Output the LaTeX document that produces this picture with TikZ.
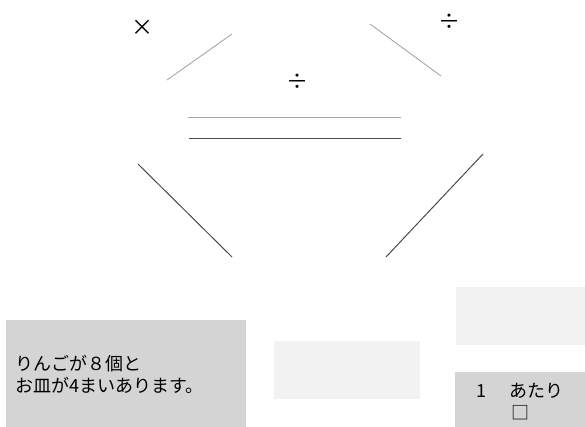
\documentclass[tikz,border=0pt]{standalone}
\usepackage{fontspec}
\setmainfont{Noto Sans CJK JP}
\usetikzlibrary{positioning}

\definecolor{boxgray}{HTML}{D4D4D4}
\definecolor{boxlight}{HTML}{F2F2F2}
\definecolor{linelight}{HTML}{A6A6A6}
\definecolor{linedark}{HTML}{4A4A4A}

\begin{document}
\begin{tikzpicture}[x=1pt, y=-1pt,
  sym/.style={font=\fontsize{22}{24}\selectfont, inner sep=0pt},
  word/.style={font=\fontsize{18}{22}\selectfont, inner sep=0pt, align=left},
  greybox/.style={fill=boxgray, anchor=north west, inner sep=0pt},
  lightbox/.style={fill=boxlight, anchor=north west, inner sep=0pt},
  thinline/.style={draw=linelight, line width=0.9pt},
  darkline/.style={draw=linedark, line width=1pt}]

  \useasboundingbox (0,0) rectangle (585,427);

  % Operators
  \node[sym] (times) at (142.5,28) {×};
  \node[sym] (divtop) at (449,22) {÷};
  \node[sym] (divmid) at (297,82) {÷};

  % Line ends
  \coordinate (L1a) at (167,80);
  \coordinate (L1b) at (232,34);
  \coordinate (R1a) at (370,24);
  \coordinate (R1b) at (441,76);
  \coordinate (H1a) at (188,117);
  \coordinate (H1b) at (401,117);
  \coordinate (H2a) at (189,139);
  \coordinate (H2b) at (401,139);
  \coordinate (L2a) at (138,164);
  \coordinate (L2b) at (232,257);
  \coordinate (R2a) at (386,257);
  \coordinate (R2b) at (483,154);

  % Lines
  \draw[thinline] (L1a) -- (L1b);
  \draw[thinline] (R1a) -- (R1b);
  \draw[thinline] (H1a) -- (H1b);
  \draw[darkline] (H2a) -- (H2b);
  \draw[darkline] (L2a) -- (L2b);
  \draw[darkline] (R2a) -- (R2b);

  % Boxes
  \node[greybox, minimum width=240pt, minimum height=107pt] (story) at (6,320) {};
  \node[lightbox, minimum width=146pt, minimum height=58pt] (middle) at (274,341) {};
  \node[lightbox, minimum width=129pt, minimum height=58pt] (answer) at (456,287) {};
  \node[greybox, minimum width=130pt, minimum height=55pt] (unit) at (455,372) {};

  % Texts
  \node[word, anchor=west] (storytext) at ([xshift=9pt, yshift=-1pt]story.west)
    {りんごが８個と\\お皿が4まいあります。};
  \node[word, align=center] (unittext) at (520,402) {1　 あたり\\□};

\end{tikzpicture}
\end{document}
